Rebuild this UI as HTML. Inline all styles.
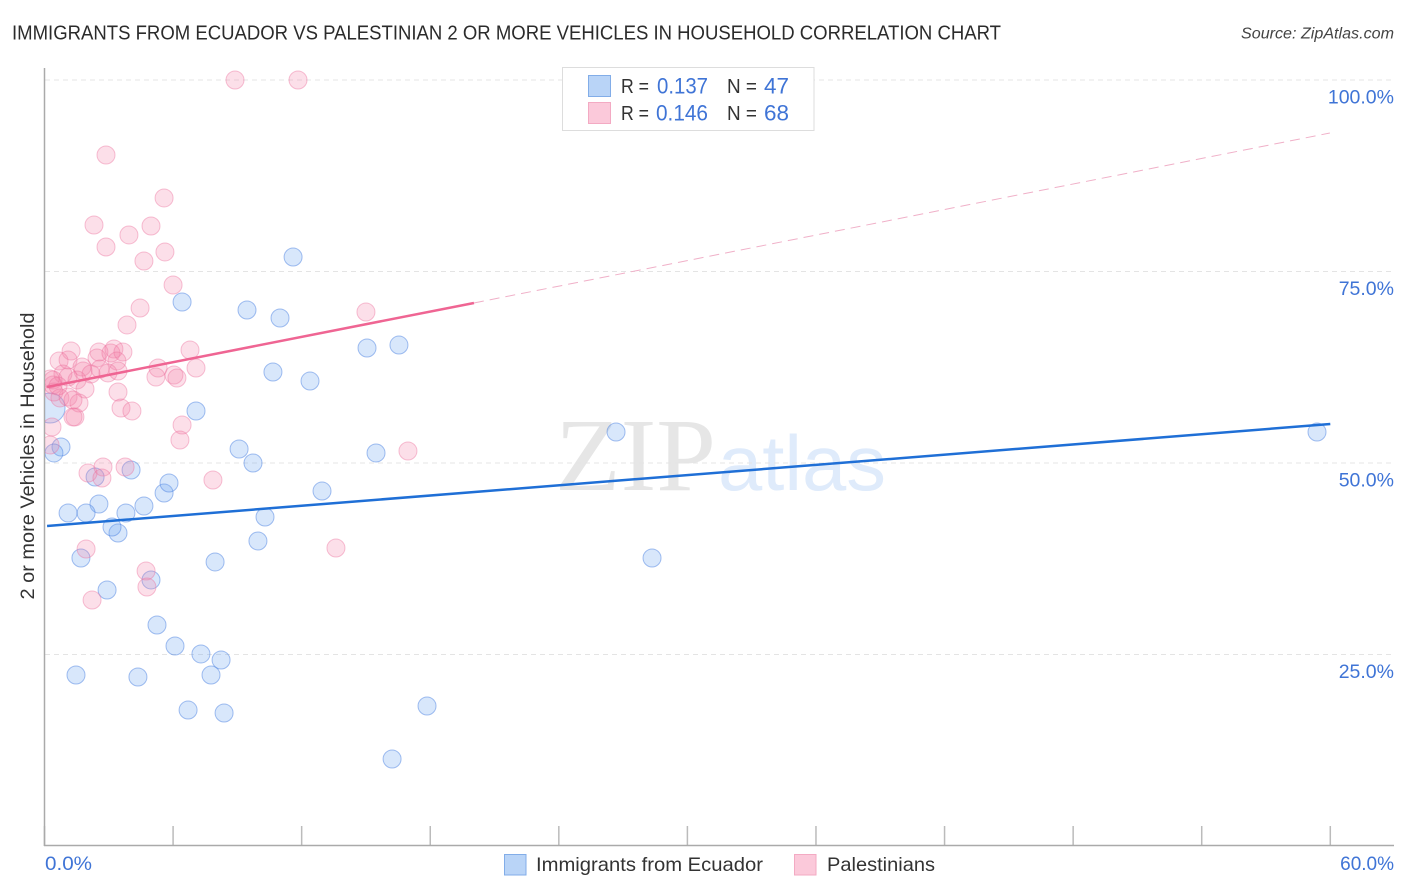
<!DOCTYPE html>
<html>
<head>
<meta charset="utf-8">
<title>Immigrants from Ecuador vs Palestinian 2 or more Vehicles in Household Correlation Chart</title>
<style>
html,body{margin:0;padding:0;background:#fff;}
svg{display:block;font-family:"Liberation Sans",sans-serif;}
</style>
</head>
<body>
<svg id="chart" xmlns="http://www.w3.org/2000/svg" width="1406" height="892" viewBox="0 0 1406 892">
  <defs>
    <clipPath id="plot-clip"><rect x="45" y="60" width="1349" height="786"/></clipPath>
  </defs>
  <rect x="0" y="0" width="1406" height="892" fill="#ffffff"/>
  <text x="12" y="39.500" font-size="20" fill="#2b2b2b" textLength="989" lengthAdjust="spacingAndGlyphs">IMMIGRANTS FROM ECUADOR VS PALESTINIAN 2 OR MORE VEHICLES IN HOUSEHOLD CORRELATION CHART</text>
  <text x="1241" y="38.500" font-size="15.500" font-style="italic" fill="#444" textLength="153" lengthAdjust="spacingAndGlyphs">Source: ZipAtlas.com</text>
  <g>
    <text x="555" y="490" font-family="'Liberation Serif',serif" font-size="104" fill="#e6e6e6" textLength="161" lengthAdjust="spacingAndGlyphs">ZIP</text>
    <text x="718" y="490" font-family="'Liberation Sans',sans-serif" font-size="78" fill="#dfebfb" textLength="168" lengthAdjust="spacingAndGlyphs">atlas</text>
  </g>
  <g id="grid"></g>
  <g id="x-ticks"></g>
  <line x1="44.500" y1="68" x2="44.500" y2="846" stroke="#aaaaaa" stroke-width="1.500"/>
  <line x1="44" y1="845.500" x2="1394" y2="845.500" stroke="#aaaaaa" stroke-width="1.500"/>
  <g id="y-labels"></g>
  <text transform="translate(34,456) rotate(-90)" font-size="19" fill="#333" text-anchor="middle" textLength="287" lengthAdjust="spacingAndGlyphs">2 or more Vehicles in Household</text>
  <text id="x-label-min" x="45" y="870" font-size="19" fill="#3f74d6" textLength="47" lengthAdjust="spacingAndGlyphs"></text>
  <text id="x-label-max" x="1394" y="870" font-size="19" fill="#3f74d6" text-anchor="end"></text>
  <g id="points-blue" clip-path="url(#plot-clip)"></g>
  <g id="points-pink" clip-path="url(#plot-clip)"></g>
  <g id="trends"></g>

  <g>
    <rect x="562.500" y="67.500" width="251.500" height="63" fill="#ffffff" stroke="#dddddd" stroke-width="1"/>
    <rect x="588.500" y="75.500" width="22" height="21" fill="#b9d4f7" stroke="#82ade8" stroke-width="1"/>
    <rect x="588.500" y="102.500" width="22" height="21" fill="#fbc9da" stroke="#f3aac3" stroke-width="1"/>
    <text x="621" y="93" font-size="20" fill="#333" textLength="28" lengthAdjust="spacingAndGlyphs">R =</text>
    <text x="657" y="93.500" font-size="22" fill="#3f74d6" textLength="51" lengthAdjust="spacingAndGlyphs">0.137</text>
    <text x="727" y="93" font-size="20" fill="#333" textLength="30" lengthAdjust="spacingAndGlyphs">N =</text>
    <text x="764" y="93.500" font-size="22" fill="#3f74d6" textLength="25" lengthAdjust="spacingAndGlyphs">47</text>
    <text x="621" y="120" font-size="20" fill="#333" textLength="28" lengthAdjust="spacingAndGlyphs">R =</text>
    <text x="656" y="120.500" font-size="22" fill="#3f74d6" textLength="52" lengthAdjust="spacingAndGlyphs">0.146</text>
    <text x="727" y="120" font-size="20" fill="#333" textLength="30" lengthAdjust="spacingAndGlyphs">N =</text>
    <text x="764" y="120.500" font-size="22" fill="#3f74d6" textLength="25" lengthAdjust="spacingAndGlyphs">68</text>
  </g>

  <g>
    <rect x="504.500" y="854.500" width="21.500" height="20.500" fill="#b9d4f7" stroke="#82ade8" stroke-width="1"/>
    <text x="536" y="871" font-size="19.500" fill="#333" textLength="227" lengthAdjust="spacingAndGlyphs">Immigrants from Ecuador</text>
    <rect x="794.500" y="854.500" width="21.500" height="20.500" fill="#fbc9da" stroke="#f3aac3" stroke-width="1"/>
    <text x="827" y="871" font-size="19.500" fill="#333" textLength="108" lengthAdjust="spacingAndGlyphs">Palestinians</text>
  </g>
</svg>
<script>
const xTickValues = [0, 6, 12, 18, 24, 30, 36, 42, 48, 54, 60];
const yTickValues = [25, 50, 75, 100];
const yTickLabels = ["25.0%", "50.0%", "75.0%", "100.0%"];
const xEndLabels = ["0.0%", "60.0%"];

const blueX = [59.38,26.67,28.35,17.85,16.22,16.54,15.05,15.47,12.95,12.39,10.66,10.99,11.60,9.45,6.42,7.07,9.08,9.73,10.29,9.96,7.96,8.24,7.77,7.30,6.09,5.25,8.38,6.70,4.36,1.47,2.92,1.70,4.97,3.43,3.15,3.80,4.64,2.54,1.94,1.10,2.36,4.04,5.58,5.81,0.77,0.44,0.26];
const blueY = [54.05,54.05,37.60,18.28,11.36,65.40,65.01,51.31,46.34,60.70,61.88,68.93,76.89,69.97,71.02,56.79,51.83,50.00,42.95,39.82,37.08,24.28,22.32,25.07,26.11,28.85,17.36,17.75,22.06,22.32,33.42,37.60,34.73,40.86,41.64,43.47,44.39,44.65,43.47,43.47,48.17,49.09,46.08,47.39,52.09,51.31,57.18];

const pinkX = [1.24,0.68,1.10,2.54,2.45,3.24,3.10,3.66,3.38,1.75,0.86,1.80,2.17,2.96,3.43,0.40,0.40,0.44,1.52,1.10,0.72,1.10,1.89,3.43,1.61,1.42,1.33,3.57,4.08,0.35,5.30,6.79,7.07,5.20,6.04,6.18,6.42,6.32,0.26,2.03,2.73,2.68,3.76,7.86,16.96,13.60,1.94,4.74,4.78,2.22,15.00,6.00,4.46,3.85,4.64,5.62,2.87,3.94,4.97,2.31,5.58,2.87,8.89,11.83,0.26,0.63,1.33,2.59];
const pinkY = [64.62,63.32,63.45,64.49,63.71,64.88,64.36,64.49,63.32,62.53,61.62,62.01,61.62,61.75,62.01,60.84,60.18,59.27,60.84,61.23,58.49,58.62,59.66,59.27,57.83,56.01,56.01,57.18,56.79,54.70,62.40,64.75,62.40,61.23,61.49,61.10,54.96,53.00,52.35,48.69,49.48,48.04,49.48,47.78,51.57,38.90,38.77,35.90,33.81,32.11,69.71,73.24,70.23,68.02,76.37,77.55,78.20,79.77,80.94,81.07,84.60,90.21,100,100,60.97,60.05,58.22,62.27];

const blueTrendX = [0.12, 60];
const blueTrendY = [41.78, 55.09];
const pinkTrendX = [0.12, 20.04];
const pinkTrendY = [59.92, 70.89];
const pinkExtendX = [20.04, 59.98];
const pinkExtendY = [70.89, 93.08];

const NS = "http://www.w3.org/2000/svg";
function xScale(v) { return 44.5 + v * 21.43; }
function yScale(v) { return 846 - v * 7.66; }

const grid = document.getElementById("grid");
yTickValues.forEach(function (v) {
  const l = document.createElementNS(NS, "line");
  
  
  l.setAttribute("x1", 45);
  l.setAttribute("x2", 1394);
  l.setAttribute("y1", yScale(v));
  l.setAttribute("y2", yScale(v));
  l.setAttribute("stroke", "#e4e4e4");
  l.setAttribute("stroke-width", "1");
  l.setAttribute("stroke-dasharray", "5 4");
  grid.appendChild(l);
});

const xt = document.getElementById("x-ticks");
xTickValues.forEach(function (v) {
  const l = document.createElementNS(NS, "line");
  
  
  l.setAttribute("x1", xScale(v));
  l.setAttribute("x2", xScale(v));
  l.setAttribute("y1", 826);
  l.setAttribute("y2", 846);
  l.setAttribute("stroke", "#bbbbbb");
  l.setAttribute("stroke-width", "1.5");
  xt.appendChild(l);
});

const yl = document.getElementById("y-labels");
yTickValues.forEach(function (v, i) {
  const t = document.createElementNS(NS, "text");
  
  
  t.setAttribute("x", 1394);
  t.setAttribute("y", yScale(v) + 23.5);
  t.setAttribute("font-size", "19.5");
  t.setAttribute("fill", "#3f74d6");
  t.setAttribute("text-anchor", "end");
  t.textContent = yTickLabels[i];
  yl.appendChild(t);
});

document.getElementById("x-label-min").textContent = xEndLabels[0];
document.getElementById("x-label-max").textContent = xEndLabels[1];

const blueGroup = document.getElementById("points-blue");
blueX.forEach(function (v, i) {
  const c = document.createElementNS(NS, "circle");
  
  
  c.setAttribute("cx", xScale(v));
  c.setAttribute("cy", yScale(blueY[i]));
  c.setAttribute("r", i === blueX.length - 1 ? 15 : 9);
  c.setAttribute("fill", "rgba(110,165,240,0.27)");
  c.setAttribute("stroke", "rgba(75,130,225,0.5)");
  c.setAttribute("stroke-width", "1");
  blueGroup.appendChild(c);
});

const pinkGroup = document.getElementById("points-pink");
pinkX.forEach(function (v, i) {
  const c = document.createElementNS(NS, "circle");
  
  
  c.setAttribute("cx", xScale(v));
  c.setAttribute("cy", yScale(pinkY[i]));
  c.setAttribute("r", 9);
  c.setAttribute("fill", "rgba(245,130,170,0.26)");
  c.setAttribute("stroke", "rgba(235,110,155,0.42)");
  c.setAttribute("stroke-width", "1");
  pinkGroup.appendChild(c);
});

const trends = document.getElementById("trends");

const pinkDash = document.createElementNS(NS, "line");


pinkDash.setAttribute("x1", xScale(pinkExtendX[0]));
pinkDash.setAttribute("y1", yScale(pinkExtendY[0]));
pinkDash.setAttribute("x2", xScale(pinkExtendX[1]));
pinkDash.setAttribute("y2", yScale(pinkExtendY[1]));
pinkDash.setAttribute("stroke", "#f0b0c8");
pinkDash.setAttribute("stroke-width", "1");
pinkDash.setAttribute("stroke-dasharray", "10 6");
trends.appendChild(pinkDash);

const pinkLine = document.createElementNS(NS, "line");


pinkLine.setAttribute("x1", xScale(pinkTrendX[0]));
pinkLine.setAttribute("y1", yScale(pinkTrendY[0]));
pinkLine.setAttribute("x2", xScale(pinkTrendX[1]));
pinkLine.setAttribute("y2", yScale(pinkTrendY[1]));
pinkLine.setAttribute("stroke", "#ef6593");
pinkLine.setAttribute("stroke-width", "2.5");
trends.appendChild(pinkLine);

const blueLine = document.createElementNS(NS, "line");


blueLine.setAttribute("x1", xScale(blueTrendX[0]));
blueLine.setAttribute("y1", yScale(blueTrendY[0]));
blueLine.setAttribute("x2", xScale(blueTrendX[1]));
blueLine.setAttribute("y2", yScale(blueTrendY[1]));
blueLine.setAttribute("stroke", "#1f6fd6");
blueLine.setAttribute("stroke-width", "2.5");
trends.appendChild(blueLine);
</script>
</body>
</html>
